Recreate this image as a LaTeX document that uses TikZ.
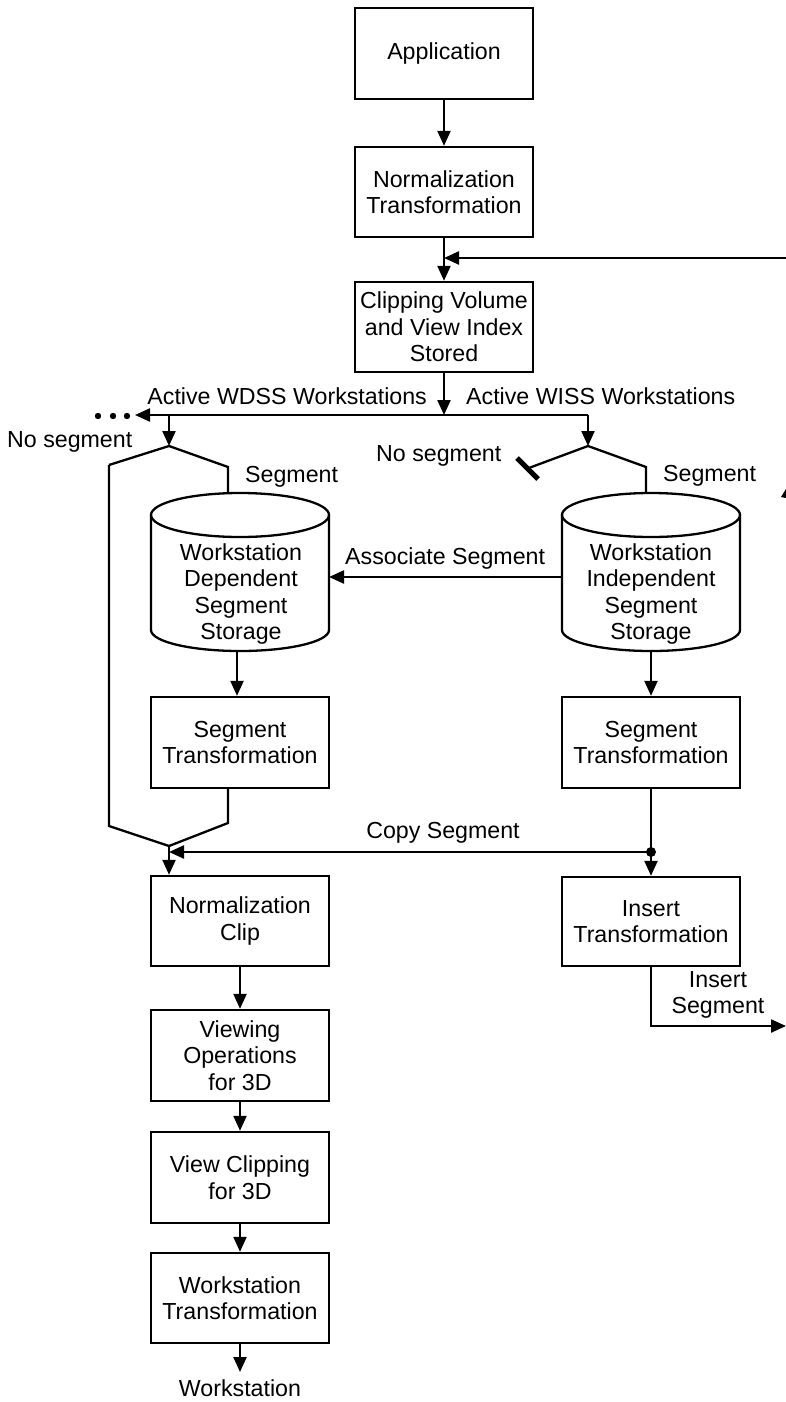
\documentclass[tikz,border=0pt]{standalone}
\usepackage{fontspec}
\setmainfont{Liberation Sans}
\usetikzlibrary{arrows.meta}
\begin{document}
\begin{tikzpicture}[x=1pt,y=1pt,
  every node/.style={font=\fontsize{23.2}{26.5}\selectfont},
  stage/.style={draw, line width=2.4pt, minimum width=178pt, minimum height=91pt, align=center, inner sep=0pt},
  wire/.style={line width=2.3pt},
  flow/.style={wire, -{Triangle[length=15pt,width=13pt]}},
  lbl/.style={inner sep=0pt}]
\useasboundingbox (0,0) rectangle (786,-1402);

% ---- main trunk ----
\node[stage] (app)  at (444,-53.5) {Application};
\node[stage, minimum height=90pt] (norm) at (444,-192) {Normalization\\Transformation};
\node[stage, minimum height=90pt] (clip) at (444,-327) {Clipping Volume\\and View Index\\Stored};

\draw[flow] (app) -- (norm);
\draw[flow] (norm) -- (clip);
\coordinate (fbin) at (786,-258);
\draw[flow] (fbin) -- (fbin -| norm.south);

% ---- distribution bus ----
\coordinate (bus)  at (444,-415);
\coordinate (busR) at (588,-415);
\coordinate (busL) at (135,-415);
\coordinate (swL)  at (169,-446);
\coordinate (swR)  at (588,-446);
\draw[flow] (clip) -- (bus);
\draw[flow] (busR) -- (busL);
\foreach \px/\nm in {98/d1,113/d2,127/d3}
  \fill (\px,-416) circle[radius=3.2pt] coordinate (\nm);
\draw[flow] (swL |- bus) -- (swL);
\draw[flow] (busR) -- (swR);

\node[lbl, anchor=base east] (wdsslbl) at (427,-404) {Active WDSS Workstations};
\node[lbl, anchor=base west] (wisslbl) at (466,-404) {Active WISS Workstations};

% ---- storage cylinders ----
\draw[wire] (151,-515) -- (151,-630) arc[start angle=180,end angle=360,x radius=89pt,y radius=21pt] -- (329,-515);
\draw[wire] (240,-515) ellipse[x radius=89pt,y radius=22pt];
\node[align=center, inner sep=0pt] (wdss) at (241,-594) {Workstation\\Dependent\\Segment\\Storage};

\draw[wire] (562,-515) -- (562,-630) arc[start angle=180,end angle=360,x radius=89pt,y radius=21pt] -- (740,-515);
\draw[wire] (651,-515) ellipse[x radius=89pt,y radius=22pt];
\node[align=center, inner sep=0pt] (wiss) at (651,-594) {Workstation\\Independent\\Segment\\Storage};

% ---- WDSS switch ----
\coordinate (legLL) at (109,-465);
\coordinate (legLR) at (228,-467);
\coordinate (wdsstop) at (228,-493);
\draw[wire] (wdsstop) -- (legLR) -- (swL) -- (legLL);
\node[lbl, anchor=base west] (nosegL) at (7,-447) {No segment};
\node[lbl, anchor=base west] (segL) at (245,-482) {Segment};

% ---- WISS switch ----
\coordinate (legRL) at (527.5,-468.5);
\coordinate (legRR) at (646,-467);
\coordinate (wisstop) at (646,-493);
\coordinate (barA) at (517,-458);
\coordinate (barB) at (538,-479);
\draw[wire] (wisstop) -- (legRR) -- (swR) -- (legRL);
\draw[line width=5pt] (barA) -- (barB);
\node[lbl, anchor=base west] (nosegR) at (376,-461) {No segment};
\node[lbl, anchor=base west] (segR) at (663,-481) {Segment};

% ---- associate ----
\coordinate (wissL) at (562,-577);
\coordinate (wdssR) at (329,-577);
\draw[flow] (wissL) -- (wdssR);
\node[lbl, anchor=base west] (assoc) at (345,-564) {Associate Segment};

% ---- segment transformations ----
\node[stage] (stL) at (240,-742.5) {Segment\\Transformation};
\node[stage] (stR) at (651,-742.5) {Segment\\Transformation};
\coordinate (wdssbot) at (237,-651);
\coordinate (wissbot) at (651,-652);
\draw[flow] (wdssbot) -- (wdssbot |- stL.north);
\draw[flow] (wissbot) -- (stR.north);

% ---- merge into left column ----
\coordinate (joinL) at (109,-826);
\coordinate (joinR) at (228,-823);
\coordinate (merge) at (169,-846);
\draw[wire] (legLL) -- (joinL) -- (merge);
\draw[wire] (joinR |- stL.south) -- (joinR) -- (merge);

\node[stage, minimum height=90pt] (nclip) at (240,-921) {Normalization\\Clip};
\draw[flow] (merge) -- (merge |- nclip.north);

% ---- copy segment ----
\coordinate (copy) at (651,-852);
\node[stage, minimum height=89pt] (ins) at (651,-921.5) {Insert\\Transformation};
\draw[wire] (stR) -- (copy);
\fill (copy) circle[radius=5pt];
\draw[flow] (copy) -- (copy -| merge);
\draw[flow] (copy) -- (ins.north);
\node[lbl, anchor=base] (copylbl) at (443,-838) {Copy Segment};

% ---- insert segment ----
\coordinate (insBend) at (651,-1026);
\coordinate (insOut) at (786,-1026);
\draw[flow] (ins.south) -- (insBend) -- (insOut);
\node[align=center, inner sep=0pt] (inslbl) at (718,-995) {Insert\\Segment};

% ---- edge fragment of the return path ----
\fill (781,-497) -- (786,-489) -- (786,-498) -- cycle;

% ---- viewing pipeline ----
\node[stage] (view) at (240,-1055.5) {Viewing\\Operations\\for 3D};
\node[stage] (vclip) at (240,-1177.5) {View Clipping\\for 3D};
\node[stage, minimum height=90pt] (wst) at (240,-1298) {Workstation\\Transformation};
\node[anchor=base, inner sep=7pt] (ws) at (240,-1396) {Workstation};

\draw[flow] (nclip) -- (view);
\draw[flow] (view) -- (vclip);
\draw[flow] (vclip) -- (wst);
\draw[flow] (wst) -- (ws);
\end{tikzpicture}
\end{document}
